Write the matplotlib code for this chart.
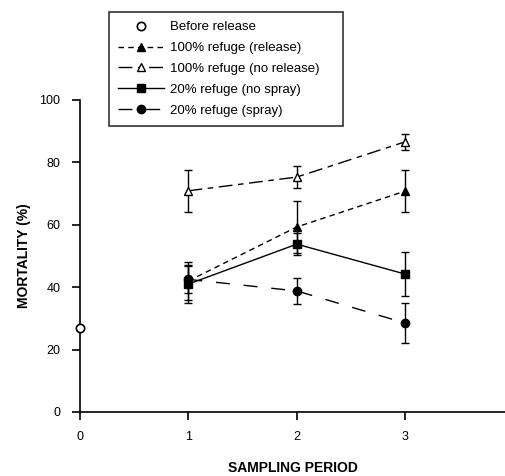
import matplotlib
matplotlib.use("Agg")
import matplotlib.pyplot as plt

plt.rcParams['font.family'] = ['Liberation Sans', 'DejaVu Sans']

# data
periods = [1, 2, 3]
before_x = [0]
before_y = [27]

rel_100 = [42, 59.3, 70.8]
rel_100_err = [6, 8.4, 6.8]
norel_100 = [70.9, 75.3, 86.6]
norel_100_err = [6.7, 3.6, 2.6]
nospray_20 = [41, 53.8, 44.2]
nospray_20_err = [6, 3.5, 7]
spray_20 = [42.5, 38.8, 28.5]
spray_20_err = [4.2, 4.2, 6.5]

labels = ['Before release', '100% refuge (release)', '100% refuge (no release)',
          '20% refuge (no spray)', '20% refuge (spray)']

fig = plt.figure(figsize=(5.06, 4.76), dpi=100)
ax = fig.add_axes([80 / 506, 64 / 476, 1 - 80 / 506, 312 / 476])

common = dict(color='black', lw=1, capsize=3, capthick=1, elinewidth=1, ms=6)

h0, = ax.plot(before_x, before_y, 'o', mfc='white', mec='black', mew=1.2,
              ms=6, clip_on=False, zorder=5)
e1 = ax.errorbar(periods, rel_100, yerr=rel_100_err, fmt='^', ls=(0, (4, 3)),
                 mfc='black', mec='black', **common)
e2 = ax.errorbar(periods, norel_100, yerr=norel_100_err, fmt='^', ls=(0, (10, 4, 4, 4)),
                 mfc='white', mec='black', **common)
e3 = ax.errorbar(periods, nospray_20, yerr=nospray_20_err, fmt='s', ls='-',
                 mfc='black', mec='black', **common)
e4 = ax.errorbar(periods, spray_20, yerr=spray_20_err, fmt='o', ls=(0, (10, 10)),
                 mfc='black', mec='black', **common)

ax.set_xlim(0, 3.93)
ax.set_ylim(0, 100)
ax.set_xticks([0, 1, 2, 3])
ax.set_yticks([0, 20, 40, 60, 80, 100])
ax.spines['top'].set_visible(False)
ax.spines['right'].set_visible(False)
ax.tick_params(direction='out', length=6, width=1.2, labelsize=9, pad=8)
for s in ['left', 'bottom']:
    ax.spines[s].set_linewidth(1.2)

ax.set_xlabel('SAMPLING PERIOD', fontsize=10, fontweight='bold', labelpad=13)
ax.set_ylabel('MORTALITY (%)', fontsize=10, fontweight='bold', labelpad=6)

handles = [h0, e1.lines[0], e2.lines[0], e3.lines[0], e4.lines[0]]
leg = fig.legend(handles, labels, loc='upper left',
                 bbox_to_anchor=(109 / 506, 1 - 124 / 476, 234 / 506, 112 / 476),
                 mode='expand', fontsize=9.5, frameon=True, fancybox=False,
                 edgecolor='black', handlelength=3.5, handletextpad=0.4,
                 borderpad=0.7, labelspacing=0.65, borderaxespad=0, numpoints=1)
leg.get_frame().set_linewidth(1.2)

fig.savefig('out.png', dpi=100)
